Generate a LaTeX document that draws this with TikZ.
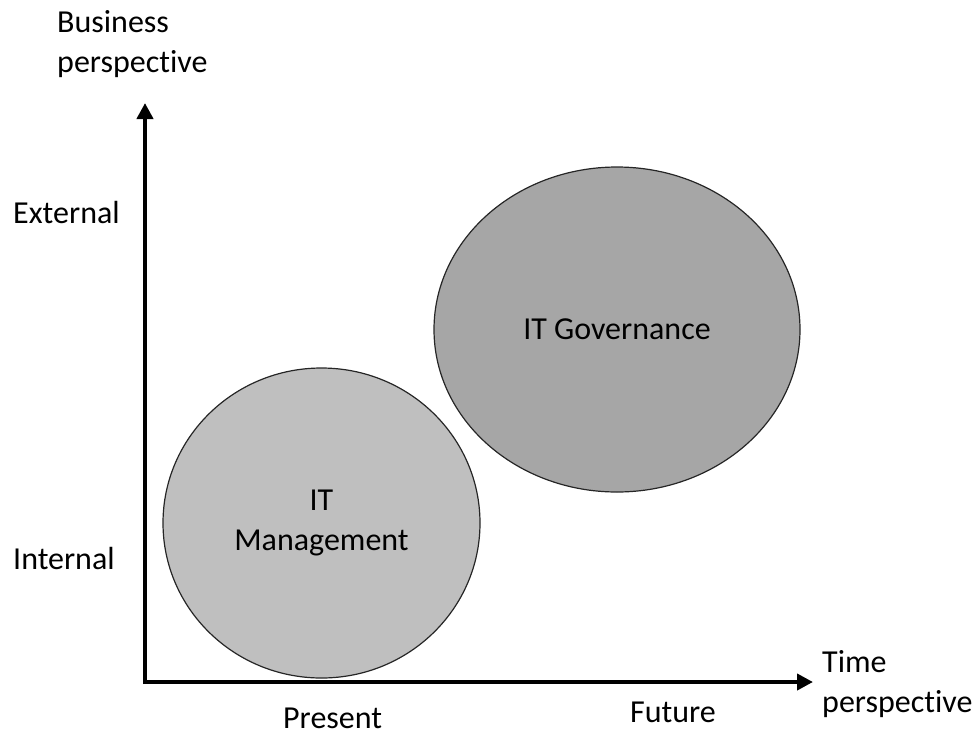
\documentclass[tikz,border=0pt]{standalone}
\usepackage{fontspec}
\setmainfont[Ligatures={NoCommon}]{Carlito}
\usetikzlibrary{arrows.meta}
\usetikzlibrary{shapes.geometric}

\begin{document}
\begin{tikzpicture}[x=1pt,y=-1pt,font=\fontsize{32}{40}\selectfont,
  axis/.style={line width=4pt,-{Triangle[length=16pt,width=16pt]}},
  blob/.style={ellipse,draw=black!85,line width=1.2pt,inner sep=0pt,outer sep=0pt,align=center},
  lbl/.style={anchor=base west,inner sep=0pt,align=left}]
\useasboundingbox (0,0) rectangle (979,737);
\draw (321.5,523) node (itm) [blob,fill=black!25,minimum width=317pt,minimum height=310pt] {IT\\Management};
\draw (617,329.5) node (itg) [blob,fill=black!35,minimum width=366pt,minimum height=325pt] {IT Governance};
\coordinate (o) at (145,682);
\coordinate (ytop) at (145,103);
\coordinate (xend) at (813,682);
\draw[axis] ([yshift=-2pt]o) -- (ytop);
\draw[axis] ([xshift=-2pt]o) -- (xend);
\draw (57,72) node (biz) [lbl] {Business\\perspective};
\draw (13,223) node (ext) [lbl] {External};
\draw (13,569) node (int) [lbl] {Internal};
\draw (283,728) node (pres) [lbl] {Present};
\draw (630,722) node (fut) [lbl] {Future};
\draw (822,712) node (time) [lbl] {Time\\perspective};
\end{tikzpicture}
\end{document}
